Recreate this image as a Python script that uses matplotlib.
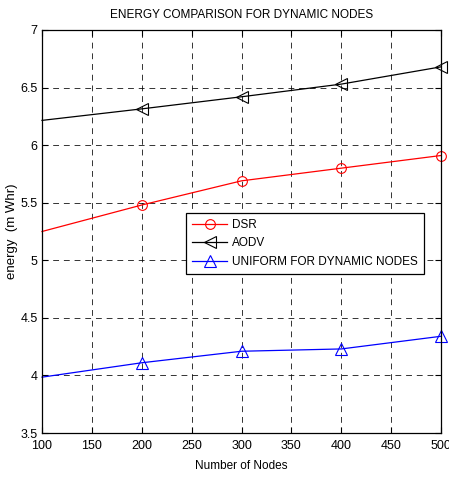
import matplotlib
matplotlib.use("Agg")
import matplotlib.pyplot as plt

plt.rcParams['font.family'] = ['Liberation Sans', 'DejaVu Sans']

nodes = [100, 200, 300, 400, 500]
dsr = [5.25, 5.48, 5.69, 5.80, 5.91]
aodv = [6.215, 6.315, 6.42, 6.53, 6.68]
uniform = [3.985, 4.11, 4.21, 4.23, 4.34]

xticks = [100, 150, 200, 250, 300, 350, 400, 450, 500]
yticks = [3.5, 4, 4.5, 5, 5.5, 6, 6.5, 7]
ytick_labels = ['3.5', '4', '4.5', '5', '5.5', '6', '6.5', '7']

fig = plt.figure(figsize=(4.49, 4.78), dpi=100)
ax = fig.add_axes([42 / 449, 1 - 433 / 478, (441 - 42) / 449, (433 - 30) / 478])

# markers only drawn from 200 on, like the original
marks = [1, 2, 3, 4]
ax.plot(nodes, dsr, color='red', lw=0.9, marker='o', ms=7, mfc='none',
        mew=0.8, markevery=marks, label='DSR', clip_on=False)
ax.plot(nodes, aodv, color='black', lw=0.9, marker='<', ms=8, mfc='none',
        mew=0.8, markevery=marks, label='AODV', clip_on=False)
ax.plot(nodes, uniform, color='blue', lw=0.9, marker='^', ms=8, mfc='none',
        mew=0.8, markevery=marks, label='UNIFORM FOR DYNAMIC NODES', clip_on=False)

ax.set_xlim(100, 500)
ax.set_ylim(3.5, 7)
ax.set_xticks(xticks)
ax.set_yticks(yticks)
ax.set_yticklabels(ytick_labels)
ax.tick_params(direction='in', top=True, right=True, labelsize=9, length=4)
ax.tick_params(axis='x', pad=5)
ax.tick_params(axis='y', pad=3)
ax.grid(True, color='black', linestyle=(0, (6, 5)), linewidth=0.7, alpha=0.8)
for s in ax.spines.values():
    s.set_linewidth(0.9)

ax.set_title('ENERGY COMPARISON FOR DYNAMIC NODES', fontsize=8.5, pad=9)
ax.set_xlabel('Number of Nodes', fontsize=8.5, labelpad=6)
ax.set_ylabel('energy  (m Whr)', fontsize=9.5, labelpad=2)

leg = ax.legend(loc='upper left', bbox_to_anchor=((186 - 42) / 399, (433 - 213) / 403),
                fontsize=8.5, fancybox=False, edgecolor='black', framealpha=1,
                borderaxespad=0, handlelength=3.0, handletextpad=0.4,
                labelspacing=0.55, borderpad=0.5)
leg.get_frame().set_linewidth(0.9)

fig.savefig('out.png', dpi=100)
